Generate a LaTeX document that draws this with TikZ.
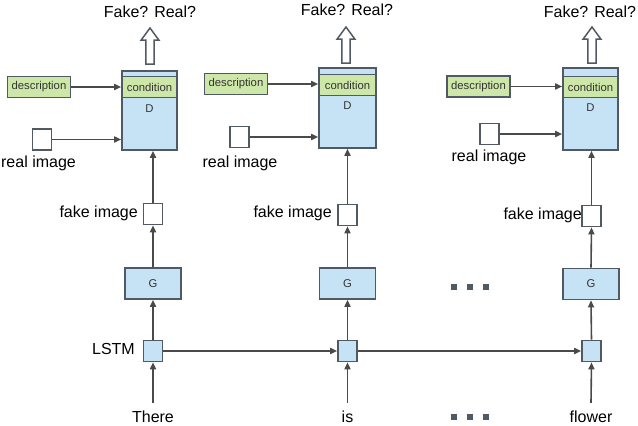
\documentclass[tikz,border=0pt]{standalone}
\usepackage{fontspec}
\setmainfont{Liberation Sans}
\usetikzlibrary{arrows.meta}
\definecolor{boxblue}{HTML}{C6E3F6}
\definecolor{boxgreen}{HTML}{CDE7A9}
\definecolor{edge}{HTML}{4F5A64}
\definecolor{wire}{HTML}{4A4A4A}
\definecolor{smalltext}{HTML}{333333}
\newcommand\mybig{\fontsize{16}{19}\selectfont}
\newcommand\mysmall{\fontsize{11.3}{13}\selectfont}
\tikzset{
  dbox/.style={draw=edge, line width=1.6pt, fill=boxblue, minimum width=55pt, minimum height=80pt, inner sep=0},
  condbox/.style={draw=edge, line width=1.6pt, fill=boxgreen, minimum width=55pt, minimum height=21pt, inner sep=0, font=\mysmall, text=smalltext},
  descbox/.style={condbox, minimum width=63pt},
  gbox/.style={draw=edge, line width=1.6pt, fill=boxblue, minimum width=56pt, minimum height=31pt, inner sep=0, font=\mysmall, text=smalltext},
  imgbox/.style={draw=edge, line width=1.6pt, fill=white, minimum width=19pt, minimum height=21pt, inner sep=0},
  lstmbox/.style={imgbox, fill=boxblue},
  dlabel/.style={font=\mysmall, text=smalltext, inner sep=0},
  biglabel/.style={font=\mybig, inner sep=0},
  conn/.style={draw=wire, line width=1.6pt, -{Triangle[length=7pt,width=6pt]}},
  hollow/.style={draw=edge, line width=1.5pt, fill=white, line join=miter},
  dotbox/.style={fill=edge, minimum size=5.5pt, inner sep=0},
  pics/hollowup/.style={code={\draw[hollow] (-4.2,0) -- (-4.2,-24) -- (-8.8,-24) -- (0,-36) -- (8.8,-24) -- (4.2,-24) -- (4.2,0) -- cycle;}}
}
\begin{document}
\begin{tikzpicture}[x=1pt,y=-1pt]
\useasboundingbox (0,0) rectangle (638,426);

% ---------- column 1 ----------
\node[dbox, minimum height=79pt] (D1) at (149.5,110.5) {};
\node[condbox] (C1) at (149.5,87) {condition};
\node[dlabel] (Dl1) at (149.5,109) {D};
\node[descbox] (desc1) at (39,87) {description};
\node[imgbox] (real1) at (42,139.5) {};
\node[biglabel] (reall1) at (38.5,163) {real image};
\node[imgbox] (fake1) at (153,214) {};
\node[biglabel, anchor=east] (fakel1) at (138,213) {fake image};
\node[gbox] (G1) at (153,283.5) {G};
\node[lstmbox] (L1) at (153,351) {};
\node[biglabel, anchor=east] (lstml) at (135,349) {LSTM};
\node[biglabel] (w1) at (153,417) {There};
\pic at (150,64) {hollowup};
\node[biglabel] (q1) at (150,12) {Fake? Real?};

% ---------- column 2 ----------
\node[dbox, minimum width=57pt] (D2) at (347.5,108) {};
\node[condbox, minimum width=57pt] (C2) at (347.5,85) {condition};
\node[dlabel] (Dl2) at (347.5,106) {D};
\node[descbox] (desc2) at (236,84) {description};
\node[imgbox] (real2) at (239.5,137) {};
\node[biglabel] (reall2) at (240,163) {real image};
\node[imgbox] (fake2) at (347.5,215) {};
\node[biglabel, anchor=east] (fakel2) at (332,213) {fake image};
\node[gbox] (G2) at (347.5,283.5) {G};
\node[lstmbox] (L2) at (347.5,351) {};
\node[biglabel] (w2) at (347.5,417) {is};
\pic at (346,63) {hollowup};
\node[biglabel] (q2) at (347,10) {Fake? Real?};

% ---------- column 3 ----------
\node[dbox, minimum height=82pt] (D3) at (590.5,109) {};
\node[condbox] (C3) at (590.5,87) {condition};
\node[dlabel] (Dl3) at (590.5,108) {D};
\node[descbox] (desc3) at (478.5,86.5) {description};
\node[imgbox] (real3) at (489.5,134) {};
\node[biglabel] (reall3) at (489,157) {real image};
\node[imgbox] (fake3) at (591.5,216) {};
\node[biglabel, anchor=east] (fakel3) at (582,215) {fake image};
\node[gbox] (G3) at (591,284) {G};
\node[lstmbox] (L3) at (591.5,351) {};
\node[biglabel] (w3) at (591,417) {flower};
\pic at (592,63) {hollowup};
\node[biglabel] (q3) at (590,12) {Fake? Real?};

% ---------- ellipsis dots ----------
\node[dotbox] (da1) at (454,287) {};
\node[dotbox] (da2) at (470,287) {};
\node[dotbox] (da3) at (486,287) {};
\node[dotbox] (db1) at (454,417) {};
\node[dotbox] (db2) at (470,417) {};
\node[dotbox] (db3) at (486,417) {};

% ---------- connectors ----------
\foreach \i in {1,2,3}{
  \draw[conn] (desc\i.east) -- (desc\i.east -| D\i.west);
  \draw[conn] (real\i.east) -- (real\i.east -| D\i.west);
  \draw[conn] ([yshift=8pt]w\i.north) -- (L\i.south);
  \draw[conn] (L\i.north) -- (G\i.south);
  \draw[conn] (G\i.north) -- (fake\i.south);
  \draw[conn] (fake\i.north) -- (fake\i.north |- D\i.south);
}
\draw[conn] (L1.east) -- (L2.west);
\draw[conn] (L2.east) -- (L3.west);
\end{tikzpicture}
\end{document}
